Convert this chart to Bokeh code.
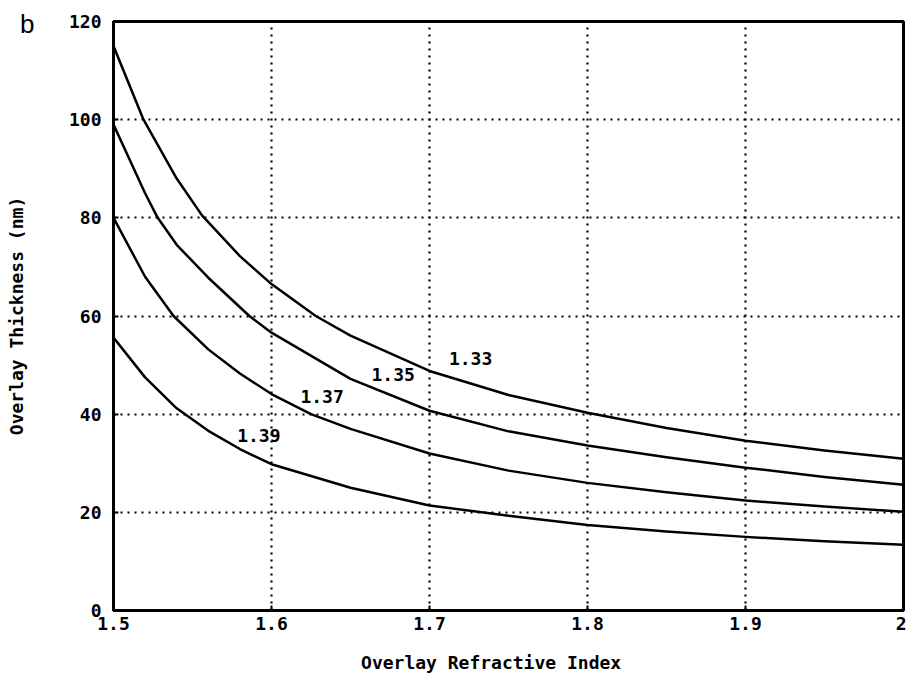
from bokeh.plotting import figure
from bokeh.models import Range1d, FixedTicker, Label, LinearAxis
from bokeh.embed import file_html
from bokeh.resources import INLINE

# ---- data ----
n133_x = [1.5, 1.519, 1.54, 1.556, 1.58, 1.6, 1.628, 1.65, 1.7, 1.75, 1.8, 1.85, 1.9, 1.95, 2.0]
n133_y = [115.0, 100.0, 88.0, 80.5, 72.2, 66.5, 60.0, 56.0, 48.8, 43.9, 40.3, 37.2, 34.6, 32.6, 30.9]

n135_x = [1.5, 1.52, 1.528, 1.54, 1.56, 1.586, 1.6, 1.65, 1.7, 1.75, 1.8, 1.85, 1.9, 1.95, 2.0]
n135_y = [99.0, 85.0, 80.0, 74.5, 67.8, 60.0, 56.6, 47.2, 40.7, 36.5, 33.6, 31.2, 29.1, 27.2, 25.6]

n137_x = [1.5, 1.52, 1.538, 1.56, 1.58, 1.6, 1.625, 1.65, 1.7, 1.75, 1.8, 1.85, 1.9, 1.95, 2.0]
n137_y = [80.0, 68.0, 60.0, 53.2, 48.3, 44.1, 40.0, 37.0, 32.0, 28.5, 26.0, 24.1, 22.4, 21.2, 20.1]

n139_x = [1.5, 1.52, 1.54, 1.56, 1.58, 1.6, 1.65, 1.7, 1.75, 1.8, 1.85, 1.9, 1.95, 2.0]
n139_y = [55.6, 47.5, 41.2, 36.6, 32.9, 29.8, 25.0, 21.4, 19.3, 17.4, 16.1, 15.0, 14.1, 13.4]

curve_names = ["1.33", "1.35", "1.37", "1.39"]
label_x = [1.726, 1.677, 1.632, 1.592]
label_y = [51.3, 48.0, 43.7, 35.6]

x_ticks = [1.5, 1.6, 1.7, 1.8, 1.9, 2.0]
x_tick_labels = ["1.5", "1.6", "1.7", "1.8", "1.9", "2"]
y_ticks = [0, 20, 40, 60, 80, 100, 120]

x_title = "Overlay Refractive Index"
x_title_pos = 1.739          # horizontal centre of the x title in the reference
y_title = "Overlay Thickness (nm)"
panel_tag = "b"
panel_tag_pos = 119.4        # vertical centre of the panel tag

FONT = "DejaVu Sans Mono"

p = figure(width=906, height=679,
           x_range=Range1d(1.5, 2.0), y_range=Range1d(0, 120),
           output_backend="svg", toolbar_location=None,
           min_border_left=113, min_border_right=3,
           min_border_top=21, min_border_bottom=69)

p.background_fill_color = "white"
p.border_fill_color = "white"
p.outline_line_color = "black"
p.outline_line_width = 3

for xs, ys in [(n133_x, n133_y), (n135_x, n135_y), (n137_x, n137_y), (n139_x, n139_y)]:
    p.line(xs, ys, line_color="black", line_width=2.5, line_join="round")

# main axes
p.xaxis.ticker = FixedTicker(ticks=x_ticks)
p.xaxis.major_label_overrides = {t: s for t, s in zip(x_ticks, x_tick_labels)}
p.yaxis.ticker = FixedTicker(ticks=y_ticks)
for ax in (p.xaxis[0], p.yaxis[0]):
    ax.axis_line_color = "black"
    ax.axis_line_width = 3
    ax.major_tick_in = 5
    ax.major_tick_out = 0
    ax.major_tick_line_width = 2
    ax.minor_tick_line_color = None
    ax.major_label_text_font = FONT
    ax.major_label_text_font_style = "bold"
    ax.major_label_text_font_size = "18px"
    ax.major_label_text_color = "black"
p.yaxis.major_label_standoff = 12
p.xaxis.major_label_standoff = 6

# outer left axis: panel tag + y title
tag_axis = LinearAxis(ticker=FixedTicker(ticks=[panel_tag_pos]),
                      major_label_overrides={panel_tag_pos: panel_tag},
                      axis_line_color=None, major_tick_line_color=None,
                      minor_tick_line_color=None,
                      major_label_standoff=25,
                      major_label_text_font="Liberation Sans",
                      major_label_text_font_size="26px",
                      major_label_text_color="black",
                      axis_label=y_title, axis_label_standoff=-10,
                      axis_label_text_font=FONT, axis_label_text_font_style="bold",
                      axis_label_text_font_size="18px", axis_label_text_color="black")
p.add_layout(tag_axis, "left")

# outer bottom axis: x title
title_axis = LinearAxis(ticker=FixedTicker(ticks=[x_title_pos]),
                        major_label_overrides={x_title_pos: x_title},
                        axis_line_color=None, major_tick_line_color=None,
                        minor_tick_line_color=None,
                        major_label_standoff=13,
                        major_label_text_font=FONT,
                        major_label_text_font_style="bold",
                        major_label_text_font_size="18px",
                        major_label_text_color="black")
p.add_layout(title_axis, "below")

# grid
p.xgrid.ticker = FixedTicker(ticks=[1.6, 1.7, 1.8, 1.9])
p.ygrid.ticker = FixedTicker(ticks=[20, 40, 60, 80, 100])
for g in (p.xgrid[0], p.ygrid[0]):
    g.grid_line_color = "black"
    g.grid_line_width = 2.2
    g.grid_line_dash = "2 5"

# curve labels
for name, lx, ly in zip(curve_names, label_x, label_y):
    p.add_layout(Label(x=lx, y=ly, text=name, text_font=FONT, text_font_style="bold",
                       text_font_size="18px", text_color="black",
                       text_align="center", text_baseline="middle"))

open("out.html", "w").write(file_html(p, INLINE))
